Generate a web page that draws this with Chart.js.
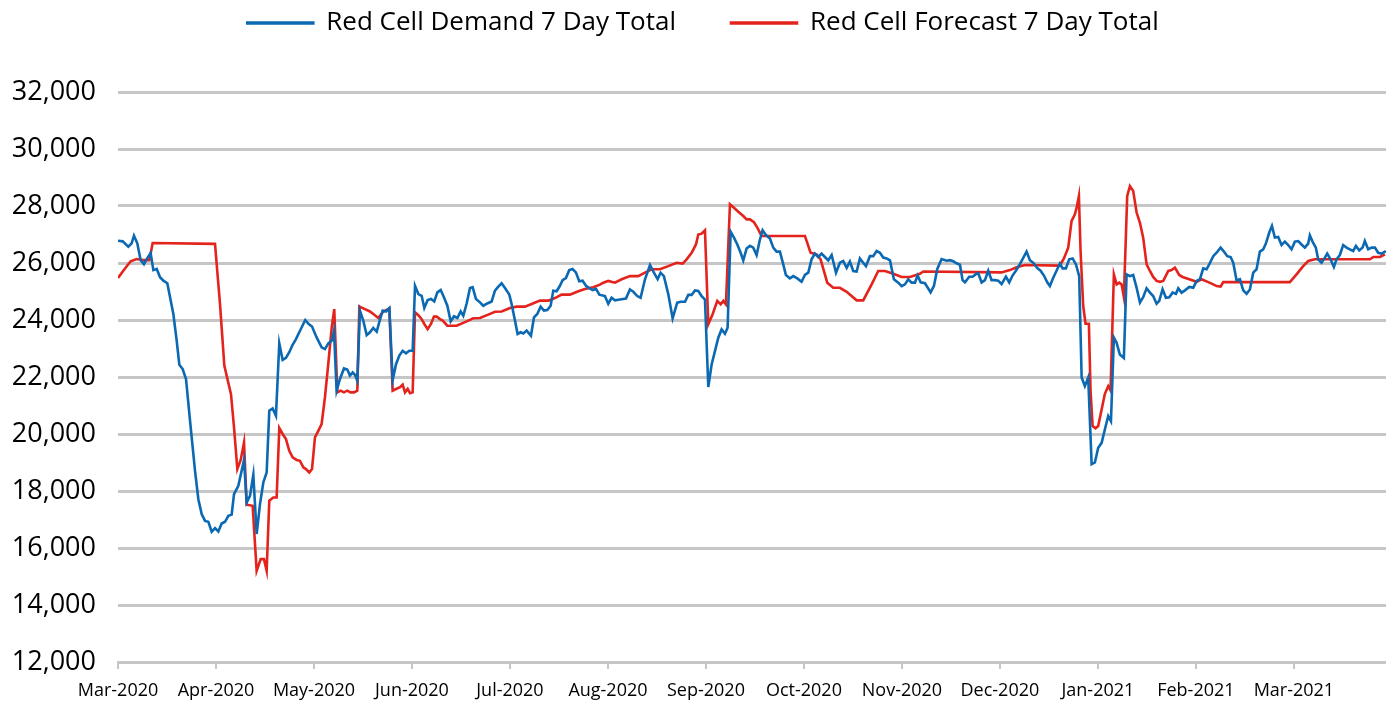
<!DOCTYPE html>
<html>
<head>
<meta charset="utf-8">
<script src="https://cdn.jsdelivr.net/npm/chart.js@4/dist/chart.umd.min.js"></script>
<style>
  html, body { margin: 0; padding: 0; background: #fff; }
  #wrap { width: 1386px; height: 704px; }
</style>
</head>
<body>
<div id="wrap"><canvas id="chart"></canvas></div>
<script>
// x positions are in months from Mar-2020 (the axis spaces months evenly)
const monthLabels = ["Mar-2020", "Apr-2020", "May-2020", "Jun-2020", "Jul-2020", "Aug-2020",
  "Sep-2020", "Oct-2020", "Nov-2020", "Dec-2020", "Jan-2021", "Feb-2021", "Mar-2021"];

const demandX = [0, 0.048, 0.105, 0.139, 0.163, 0.197, 0.231, 0.265, 0.299, 0.333, 0.361, 0.395, 0.429, 0.463, 0.503,
  0.565, 0.599, 0.626, 0.660, 0.694, 0.735, 0.786, 0.820, 0.854, 0.888, 0.922, 0.956, 0.990, 1.024, 1.058, 1.092,
  1.126, 1.160, 1.184, 1.228, 1.286, 1.313, 1.347, 1.381, 1.415, 1.449, 1.483, 1.517, 1.544, 1.578, 1.612, 1.646,
  1.680, 1.714, 1.748, 1.782, 1.816, 1.850, 1.911, 1.946, 1.980, 2.027, 2.078, 2.112, 2.146, 2.181, 2.204, 2.231,
  2.265, 2.306, 2.340, 2.367, 2.395, 2.418, 2.442, 2.469, 2.503, 2.538, 2.571, 2.605, 2.640, 2.666, 2.701, 2.735,
  2.769, 2.803, 2.837, 2.871, 2.905, 2.939, 2.973, 3.007, 3.031, 3.065, 3.099, 3.126, 3.160, 3.194, 3.228, 3.259,
  3.293, 3.327, 3.361, 3.395, 3.429, 3.463, 3.497, 3.524, 3.558, 3.592, 3.619, 3.653, 3.694, 3.728, 3.769, 3.813,
  3.847, 3.881, 3.915, 3.949, 3.993, 4.017, 4.051, 4.078, 4.109, 4.136, 4.170, 4.194, 4.214, 4.245, 4.279, 4.313,
  4.347, 4.381, 4.415, 4.442, 4.476, 4.510, 4.537, 4.571, 4.605, 4.639, 4.673, 4.707, 4.741, 4.776, 4.810, 4.844,
  4.878, 4.912, 4.969, 5.003, 5.037, 5.071, 5.122, 5.184, 5.224, 5.259, 5.299, 5.333, 5.378, 5.429, 5.469, 5.507,
  5.537, 5.571, 5.616, 5.660, 5.707, 5.742, 5.786, 5.820, 5.854, 5.888, 5.922, 5.956, 5.990, 6.024, 6.058, 6.092,
  6.126, 6.160, 6.194, 6.221, 6.252, 6.286, 6.320, 6.354, 6.381, 6.415, 6.449, 6.483, 6.517, 6.548, 6.578, 6.612,
  6.653, 6.687, 6.721, 6.755, 6.789, 6.816, 6.857, 6.891, 6.932, 6.976, 7.010, 7.044, 7.078, 7.112, 7.146, 7.180,
  7.214, 7.248, 7.283, 7.327, 7.367, 7.401, 7.436, 7.469, 7.503, 7.538, 7.571, 7.605, 7.633, 7.673, 7.707, 7.742,
  7.776, 7.809, 7.844, 7.878, 7.918, 7.962, 7.997, 8.031, 8.064, 8.099, 8.133, 8.160, 8.191, 8.235, 8.293, 8.327,
  8.361, 8.405, 8.456, 8.490, 8.524, 8.558, 8.592, 8.619, 8.643, 8.687, 8.721, 8.755, 8.779, 8.813, 8.847, 8.881,
  8.915, 8.949, 8.983, 9.017, 9.061, 9.095, 9.129, 9.163, 9.204, 9.238, 9.272, 9.306, 9.347, 9.381, 9.415, 9.449,
  9.483, 9.510, 9.544, 9.585, 9.612, 9.640, 9.673, 9.707, 9.742, 9.776, 9.809, 9.834, 9.867, 9.901, 9.936, 9.969,
  10.003, 10.038, 10.071, 10.105, 10.133, 10.163, 10.191, 10.224, 10.265, 10.293, 10.327, 10.360, 10.395, 10.429,
  10.462, 10.497, 10.531, 10.564, 10.599, 10.626, 10.660, 10.694, 10.728, 10.762, 10.796, 10.820, 10.854, 10.888,
  10.932, 10.973, 11.007, 11.041, 11.075, 11.109, 11.143, 11.177, 11.211, 11.252, 11.286, 11.320, 11.354, 11.381,
  11.415, 11.449, 11.483, 11.517, 11.551, 11.585, 11.619, 11.653, 11.687, 11.714, 11.748, 11.776, 11.806, 11.840,
  11.874, 11.908, 11.942, 11.976, 12.010, 12.044, 12.078, 12.112, 12.146, 12.163, 12.190, 12.224, 12.248, 12.282,
  12.316, 12.340, 12.374, 12.408, 12.435, 12.469, 12.503, 12.537, 12.571, 12.605, 12.633, 12.667, 12.701, 12.724,
  12.758, 12.793, 12.827, 12.860, 12.895, 12.939];
const demandY = [26780, 26760, 26570, 26690, 26960, 26690, 26100, 25960, 26170, 26350, 25750, 25790, 25500, 25380, 25290,
  24210, 23270, 22430, 22280, 21930, 20470, 18710, 17710, 17190, 16950, 16920, 16570, 16700, 16580, 16860, 16920,
  17130, 17170, 17890, 18180, 19090, 17600, 17830, 18570, 16490, 17540, 18300, 18650, 20820, 20900, 20640, 23180,
  22600, 22670, 22870, 23130, 23330, 23570, 24000, 23860, 23770, 23390, 23040, 22980, 23180, 23270, 23620, 21520,
  21930, 22300, 22260, 22050, 22160, 22080, 21870, 24330, 23980, 23470, 23570, 23720, 23590, 23920, 24330, 24300,
  24420, 21890, 22450, 22750, 22920, 22830, 22920, 22920, 25200, 24910, 24850, 24420, 24700, 24740, 24650, 24970,
  25050, 24790, 24500, 23950, 24130, 24070, 24300, 24150, 24580, 25120, 25150, 24740, 24620, 24500, 24580, 24650,
  25030, 25170, 25290, 25120, 24890, 24560, 23980, 23510, 23570, 23530, 23630, 23530, 23450, 24090, 24210, 24470,
  24330, 24350, 24500, 25030, 25010, 25200, 25400, 25470, 25750, 25790, 25670, 25360, 25380, 25200, 25120, 25050,
  25090, 24890, 24840, 24570, 24780, 24690, 24720, 24750, 25070, 24990, 24840, 24780, 25430, 25930, 25660, 25430,
  25660, 25540, 24900, 24060, 24610, 24640, 24640, 24880, 24880, 25040, 25020, 24840, 24720, 21650, 22440, 22910,
  23380, 23670, 23520, 23730, 27100, 26890, 26650, 26360, 26090, 26510, 26600, 26540, 26280, 26780, 27150, 26980,
  26860, 26540, 26400, 26400, 25950, 25580, 25460, 25540, 25460, 25340, 25580, 25660, 26130, 26330, 26210, 26330,
  26210, 26090, 26280, 25660, 26010, 26070, 25830, 26050, 25720, 25700, 26160, 26010, 25890, 26240, 26240, 26420,
  26360, 26190, 26160, 26090, 25430, 25310, 25190, 25250, 25430, 25310, 25310, 25560, 25320, 25290, 24970, 25200,
  25790, 26140, 26080, 26100, 26060, 25990, 25940, 25400, 25320, 25520, 25520, 25610, 25640, 25320, 25400, 25730,
  25400, 25400, 25380, 25260, 25520, 25320, 25560, 25730, 25960, 26180, 26400, 26100, 25990, 25820, 25730, 25560,
  25320, 25190, 25480, 25780, 25980, 25810, 25810, 26130, 26160, 25950, 25540, 21980, 21680, 21980, 18940, 19000,
  19520, 19690, 20160, 20630, 20450, 23380, 23200, 22790, 22670, 25600, 25540, 25580, 25130, 24610,
  24800, 25110, 24960, 24840, 24570, 24670, 25080, 24780, 24800, 24960, 24920, 25110, 24960, 25040,
  25160, 25130, 25370, 25430, 25810, 25780, 26000, 26240, 26360, 26540, 26400, 26240, 26210, 26010,
  25390, 25430, 25040, 24920, 25070, 25660, 25780, 26400, 26480, 26680, 27060, 27300, 26890, 26910,
  26630, 26750, 26630, 26480, 26750, 26770, 26650, 26540, 26680, 26970, 26750, 26540, 26130, 26010,
  26190, 26330, 26130, 25860, 26130, 26280, 26630, 26540, 26480, 26420, 26600, 26440, 26540, 26770,
  26480, 26540, 26540, 26360, 26330, 26420];

const forecastX = [0, 0.054, 0.129, 0.190, 0.259, 0.320, 0.354, 0.990, 1.041, 1.085, 1.153, 1.184, 1.218, 1.252, 1.286,
  1.313, 1.374, 1.415, 1.456, 1.490, 1.517, 1.544, 1.585, 1.619, 1.646, 1.680, 1.714, 1.748, 1.782, 1.823, 1.857,
  1.891, 1.918, 1.952, 1.980, 2.010, 2.044, 2.078, 2.112, 2.146, 2.181, 2.207, 2.238, 2.272, 2.306, 2.340, 2.374,
  2.408, 2.442, 2.463, 2.520, 2.571, 2.612, 2.656, 2.707, 2.769, 2.803, 2.837, 2.878, 2.905, 2.929, 2.956, 2.980,
  3.007, 3.031, 3.065, 3.099, 3.126, 3.160, 3.194, 3.224, 3.252, 3.286, 3.313, 3.361, 3.456, 3.558, 3.626, 3.694,
  3.779, 3.847, 3.915, 4.000, 4.068, 4.153, 4.221, 4.306, 4.391, 4.459, 4.527, 4.612, 4.697, 4.765, 4.850, 4.918,
  4.952, 5.003, 5.071, 5.140, 5.224, 5.309, 5.378, 5.446, 5.531, 5.616, 5.701, 5.762, 5.803, 5.854, 5.898, 5.922,
  5.956, 5.990, 6.024, 6.068, 6.116, 6.150, 6.177, 6.204, 6.245, 6.286, 6.330, 6.381, 6.415, 6.449, 6.490, 6.524,
  6.568, 7.010, 7.068, 7.129, 7.170, 7.238, 7.299, 7.367, 7.436, 7.538, 7.605, 7.691, 7.758, 7.827, 7.912, 7.997,
  8.082, 8.184, 8.218, 9.017, 9.102, 9.170, 9.255, 9.612, 9.653, 9.697, 9.731, 9.765, 9.783, 9.806, 9.823, 9.850,
  9.874, 9.908, 9.925, 9.946, 9.976, 10.003, 10.038, 10.071, 10.105, 10.129, 10.163, 10.191, 10.218, 10.242,
  10.265, 10.299, 10.327, 10.360, 10.395, 10.429, 10.462, 10.497, 10.531, 10.564, 10.599, 10.633, 10.667, 10.718,
  10.752, 10.786, 10.830, 10.864, 10.932, 11.007, 11.058, 11.126, 11.177, 11.211, 11.252, 11.279, 11.959, 12.027,
  12.095, 12.146, 12.214, 12.776, 12.810, 12.878, 12.929];
const forecastY = [25470, 25730, 26060, 26140, 26100, 26100, 26700, 26670, 24560, 22400, 21400, 20230, 18770, 19090, 19700,
  17520, 17480, 15200, 15610, 15610, 15200, 17660, 17770, 17770, 20210, 20000, 19820, 19410, 19180, 19090, 19060,
  18830, 18770, 18650, 18770, 19880, 20110, 20350, 21290, 22460, 23740, 24380, 21460, 21520, 21460, 21520, 21460,
  21460, 21520, 24470, 24380, 24300, 24190, 24070, 24300, 24400, 21520, 21580, 21640, 21730, 21460, 21580, 21430,
  21460, 24270, 24170, 24030, 23860, 23680, 23860, 24120, 24120, 24030, 23980, 23800, 23800, 23950, 24060, 24070,
  24190, 24290, 24300, 24420, 24470, 24470, 24560, 24680, 24680, 24770, 24890, 24890, 25010, 25090, 25150, 25240,
  25310, 25370, 25310, 25430, 25540, 25540, 25660, 25780, 25780, 25890, 26010, 25980, 26130, 26360, 26650, 27000,
  27030, 27150, 23850, 24200, 24670, 24550, 24670, 24550, 28060, 27940, 27800, 27650, 27530, 27530, 27430, 27240,
  26950, 26950, 26360, 26300, 26130, 25310, 25130, 25130, 24990, 24690, 24690, 25250, 25720, 25720, 25620, 25510,
  25510, 25620, 25700, 25670, 25750, 25850, 25930, 25910, 26160, 26540, 27470, 27710, 27940, 28350, 26420, 24490,
  23870, 23870, 21510, 20280, 20200, 20280, 20860, 21410, 21680, 21530, 25600, 25250, 25310, 25250,
  24800, 28350, 28700, 28530, 27770, 27410, 26890, 25950, 25720, 25510, 25370, 25340, 25370, 25720,
  25750, 25840, 25580, 25510, 25430, 25340, 25430, 25330, 25250, 25190, 25170, 25330, 25330, 25600,
  25890, 26070, 26130, 26130, 26210, 26210, 26300];

const toPoints = (xs, ys) => xs.map((x, i) => ({ x: x, y: ys[i] }));

// extra room between legend and plot area, and nudge legend right a bit
const legendGap = {
  id: "legendGap",
  afterInit(chart) {
    const fit = chart.legend.fit;
    chart.legend.fit = function () {
      fit.call(this);
      this.height += 46;
    };
  },
  beforeDraw(chart) {
    chart.legend.left = 20;
  },
};

const gridGrey = "#c6c6c6";

const chart = new Chart(document.getElementById("chart"), {
  type: "line",
  data: {
    datasets: [
      {
        label: "Red Cell Demand 7 Day Total",
        data: toPoints(demandX, demandY),
        borderColor: "#0a69b2",
        backgroundColor: "#0a69b2",
        borderWidth: 2.6,
        pointRadius: 0,
        tension: 0,
      },
      {
        label: "Red Cell Forecast 7 Day Total",
        data: toPoints(forecastX, forecastY),
        borderColor: "#e4231c",
        backgroundColor: "#e4231c",
        borderWidth: 2.6,
        pointRadius: 0,
        tension: 0,
      },
    ],
  },
  options: {
    responsive: true,
    maintainAspectRatio: false,
    animation: false,
    layout: { padding: { top: -45, left: 0, right: 0, bottom: 0 } },
    font: { family: "'Open Sans', sans-serif" },
    plugins: {
      tooltip: { enabled: false },
      legend: {
        position: "top",
        labels: {
          color: "#000",
          font: { size: 26, family: "'Open Sans', sans-serif" },
          boxWidth: 66,
          boxHeight: 1,
          padding: 55,
        },
      },
    },
    scales: {
      x: {
        type: "linear",
        min: 0,
        max: 12.94,
        afterBuildTicks: (axis) => {
          axis.ticks = monthLabels.map((_, i) => ({ value: i }));
        },
        afterFit: (axis) => {
          axis.height = 42;
        },
        ticks: {
          autoSkip: false,
          maxRotation: 0,
          padding: 11,
          color: "#000",
          font: { size: 18, family: "'Open Sans', sans-serif" },
          callback: (v) => monthLabels[v],
        },
        grid: {
          drawOnChartArea: false,
          drawTicks: true,
          tickLength: 7,
          color: gridGrey,
          lineWidth: 2,
        },
        border: { display: true, color: gridGrey, width: 3 },
      },
      y: {
        min: 12000,
        max: 32000,
        afterFit: (axis) => {
          axis.width = 118;
        },
        ticks: {
          stepSize: 2000,
          padding: 22,
          color: "#000",
          font: { size: 27, family: "'Open Sans', sans-serif" },
          callback: (v) => v.toLocaleString("en-US"),
        },
        grid: { color: gridGrey, lineWidth: 3, drawTicks: false },
        border: { display: false },
      },
    },
  },
  plugins: [legendGap],
});
</script>
</body>
</html>
